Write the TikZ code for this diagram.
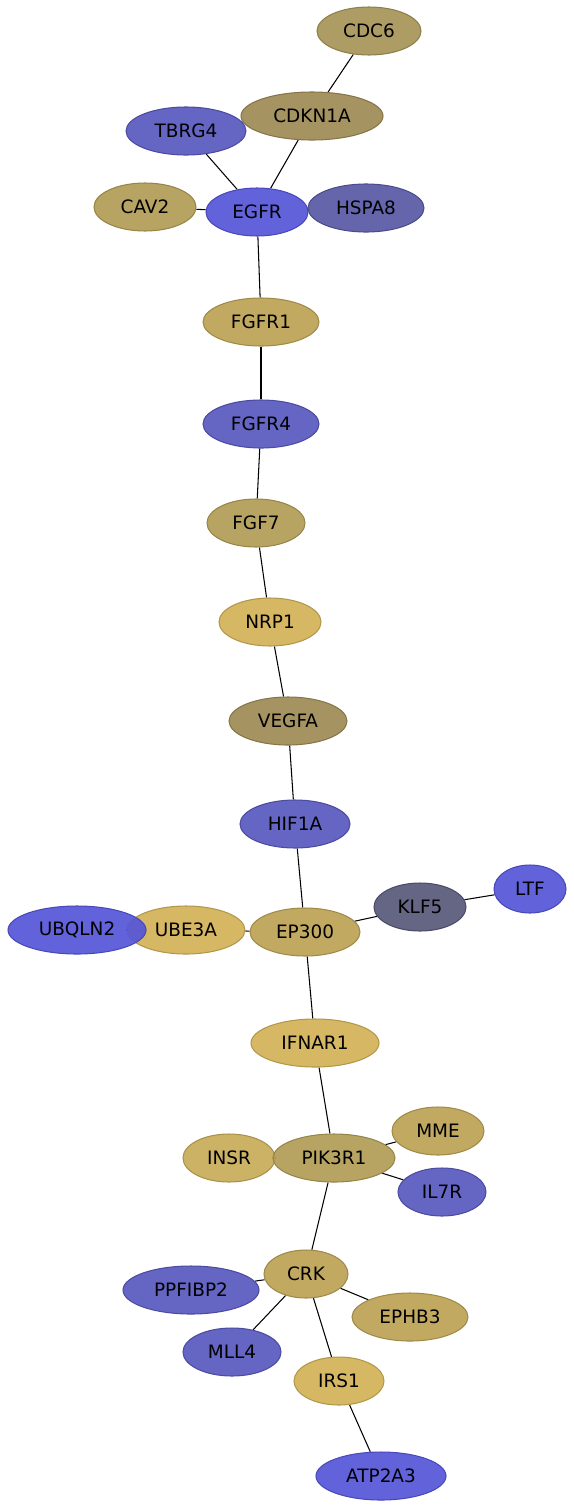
\documentclass[tikz,border=0pt]{standalone}
\usepackage{fontspec}
\setmainfont{DejaVu Sans}
\usetikzlibrary{shapes.geometric,backgrounds}

\begin{document}
\begin{tikzpicture}[x=0.02cm, y=-0.02cm]
    % Define colours
    \definecolor{goldA}{HTML}{A69558}
    \definecolor{goldB}{HTML}{9E8A55}
    \definecolor{goldC}{HTML}{B29C55}
    \definecolor{goldD}{HTML}{BCA255}
    \definecolor{goldE}{HTML}{D2B257}
    \definecolor{goldF}{HTML}{C7AB58}
    \definecolor{blueA}{HTML}{5555D8}
    \definecolor{blueB}{HTML}{5858BE}
    \definecolor{blueC}{HTML}{5858A4}
    \definecolor{blueD}{HTML}{58587A}

    % Define styles
    \tikzset{
        gene/.style={ellipse, inner sep=0pt, minimum height=0.96cm, fill opacity=0.92,
            text opacity=1, line width=0.6pt, font=\fontsize{10.5}{12}\selectfont},
    }

    % Fix the margins
    \useasboundingbox (0,0) rectangle (574,1508);

    % Draw the genes
    \foreach \name/\x/\y/\w/\col in {
        CDC6/369/31/104/goldA, CDKN1A/312/116/142/goldB, TBRG4/186/131/120/blueB,
        CAV2/145/207/102/goldC, EGFR/257/212/102/blueA, HSPA8/366/208/116/blueC,
        FGFR1/261/322/116/goldD, FGFR4/261/424/116/blueB, FGF7/256/523/98/goldC,
        NRP1/270/622/102/goldE, VEGFA/288/721/118/goldB, HIF1A/295/824/110/blueB,
        UBE3A/186/930/118/goldE, UBQLN2/77/930/138/blueA, EP300/305/932/110/goldD,
        KLF5/420/907/92/blueD, LTF/530/889/72/blueA, IFNAR1/315/1043/128/goldE,
        MME/438/1131/92/goldD, INSR/229/1158/92/goldF, PIK3R1/334/1158/122/goldC,
        IL7R/442/1192/88/blueB, CRK/306/1274/84/goldD, PPFIBP2/191/1290/136/blueB,
        EPHB3/410/1317/116/goldD, MLL4/232/1352/98/blueB, IRS1/339/1381/90/goldE,
        ATP2A3/381/1476/130/blueA}
        \node[gene, fill=\col, draw=\col!85!black, minimum width=\w*0.02cm] (\name) at (\x,\y) {\name};

    % Draw the interactions
    \begin{scope}[on background layer]
        \foreach \a/\b in {CDC6/CDKN1A, CDKN1A/EGFR, TBRG4/EGFR, CAV2/EGFR, EGFR/HSPA8,
            EGFR/FGFR1, FGFR1/FGFR4, FGFR4/FGF7, FGF7/NRP1, NRP1/VEGFA, VEGFA/HIF1A,
            HIF1A/EP300, EP300/UBE3A, UBE3A/UBQLN2, EP300/KLF5, KLF5/LTF, EP300/IFNAR1,
            IFNAR1/PIK3R1, PIK3R1/INSR, PIK3R1/MME, PIK3R1/IL7R, PIK3R1/CRK,
            CRK/PPFIBP2, CRK/EPHB3, CRK/MLL4, CRK/IRS1, IRS1/ATP2A3}
            \draw[black, line width=0.6pt] (\a) -- (\b);
    \end{scope}

\end{tikzpicture}
\end{document}
